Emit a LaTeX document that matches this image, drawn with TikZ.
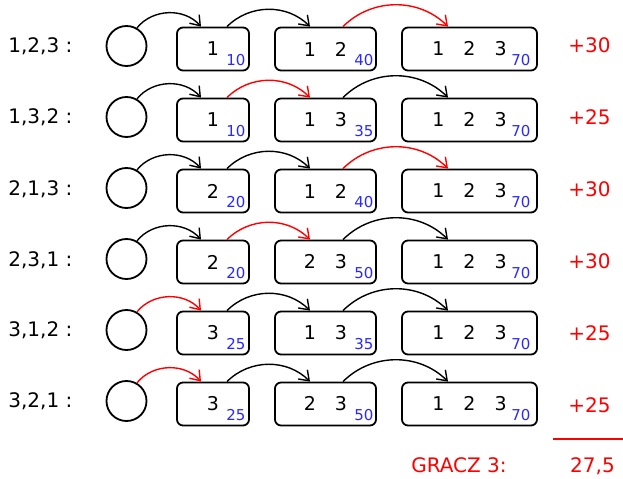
\documentclass[tikz,border=0pt]{standalone}
\usepackage{fontspec}
\setmainfont{DejaVu Sans}
\usepackage{tikz}
\usetikzlibrary{arrows.meta,positioning,calc}
\definecolor{GainRed}{RGB}{255,0,0}
\definecolor{SubBlue}{RGB}{40,40,255}
\tikzset{
  empty/.style={circle,draw=black,line width=0.9pt,minimum size=20pt,inner sep=0pt},
  coal/.style={rectangle,rounded corners=3pt,draw=black,line width=0.9pt,
               minimum height=21.5pt,inner sep=0pt,font=\fontsize{9.5}{11}\selectfont},
  val/.style={inner sep=0pt,anchor=base east,text=SubBlue,font=\fontsize{7.5}{9}\selectfont},
  order/.style={inner sep=0pt,anchor=base west,font=\fontsize{10}{12}\selectfont},
  gain/.style={inner sep=0pt,anchor=base,text=GainRed,font=\fontsize{10}{12}\selectfont},
  move/.style={-{Straight Barb[length=4.5pt,width=6.5pt,line width=0.7pt]},line width=0.7pt},
}

\begin{document}
\begin{tikzpicture}[x=0.5pt,y=0.5pt]
  \useasboundingbox (0,0) rectangle (623,478);
  \foreach \lab/\one/\vone/\two/\vtwo/\ca/\cb/\cc/\plus [count=\i from 0] in {
      1{,}2{,}3 :/1/10/1\quad 2/40/black/black/GainRed/+30,
      1{,}3{,}2 :/1/10/1\quad 3/35/black/GainRed/black/+25,
      2{,}1{,}3 :/2/20/1\quad 2/40/black/black/GainRed/+30,
      2{,}3{,}1 :/2/20/2\quad 3/50/black/GainRed/black/+30,
      3{,}1{,}2 :/3/25/1\quad 3/35/GainRed/black/black/+25,
      3{,}2{,}1 :/3/25/2\quad 3/50/GainRed/black/black/+25}
  {
    \pgfmathsetmacro\Y{432-71*\i}
    \node[order] (lab\i) at (8,\Y-7) {\lab};
    \node[empty] (o\i) at (126.5,\Y) {};
    \node[coal,minimum width=36pt] (one\i) at (213,\Y-3) {\one};
    \node[coal,minimum width=50.5pt] (two\i) at (325.5,\Y-3) {\two};
    \node[coal,minimum width=67.5pt] (all\i) at (469.5,\Y-3) {1\quad 2\quad 3};
    \node[val] (v1\i) at ($(one\i.south east)+(-4,6)$) {\vone};
    \node[val] (v2\i) at ($(two\i.south east)+(-3,6)$) {\vtwo};
    \node[val] (v3\i) at ($(all\i.south east)+(-7,6)$) {70};
    \node[gain] (g\i) at (589.5,425-71.8*\i) {\plus};

    \draw[move,\ca] (o\i.60) to[bend left=50] ($(one\i.north)+(-12,0)$);
    \draw[move,\cb] ($(one\i.north)+(14,0)$) to[bend left=45] ($(two\i.north)+(-15.5,0)$);
    \draw[move,\cc] ($(two\i.north)+(17.5,0)$) to[bend left=45] ($(all\i.north)+(-21.5,0)$);
  }

  \draw[GainRed,line width=0.8pt] (553,39) -- (623,39);
  \node[gain] (player) at (459,5) {GRACZ 3:};
  \node[gain] (shapley) at (592.5,5) {27,5};
\end{tikzpicture}
\end{document}
